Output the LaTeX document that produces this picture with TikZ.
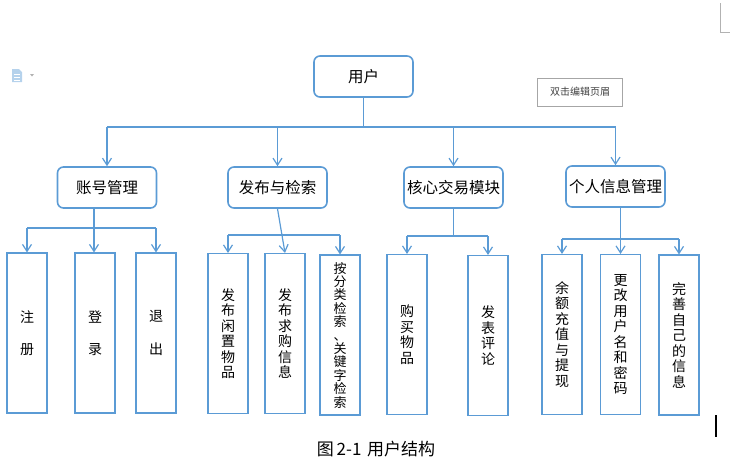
\documentclass[tikz,border=0pt]{standalone}
\usepackage{fontspec}
\setmainfont{Noto Sans CJK SC}
\usetikzlibrary{arrows.meta}
\definecolor{lb}{HTML}{5B9BD5}
\begin{document}
\begin{tikzpicture}[x=1pt,y=-1pt,
 topbox/.style={draw=lb, line width=1.6pt, rounded corners=6pt, inner sep=0pt,
   minimum width=99pt, minimum height=41pt, font=\fontsize{15.5}{18}\selectfont},
 leaf/.style={draw=lb, line width=1.1pt, inner sep=0pt, align=center,
   minimum width=40pt, minimum height=160pt, font=\fontsize{14}{15.5}\selectfont},
 conn/.style={draw=lb, line width=1.2pt},
 arr/.style={conn, -{Straight Barb[length=7pt,width=9pt]}},
]
\useasboundingbox (0,0) rectangle (730,463);
% top
\node[topbox] (u) at (363.5,76.5) {用户};
\node[topbox] (a) at (107,187.5) {账号管理};
\node[topbox] (b) at (277.5,187.5) {发布与检索};
\node[topbox] (c) at (453.5,187.5) {核心交易模块};
\node[topbox] (d) at (615.5,186.5) {个人信息管理};
% leaves
\node[leaf] (l1) at (27,333) {注\\[17pt]册};
\node[leaf] (l2) at (95,333) {登\\[17pt]录};
\node[leaf] (l3) at (156,333) {退\\[17pt]出};
\node[leaf] (p1) at (228,333.5) {发\\布\\闲\\置\\物\\品};
\node[leaf] (p2) at (285,333.5) {发\\布\\求\\购\\信\\息};
\node[leaf, font=\fontsize{13}{13.4}\selectfont] (p3) at (340,335) {按\\分\\类\\检\\索\\、\\关\\键\\字\\检\\索};
\node[leaf] (k1) at (407,334.5) {购\\买\\物\\品};
\node[leaf] (k2) at (488,335.5) {发\\表\\评\\论};
\node[leaf] (m1) at (562,334.5) {余\\额\\充\\值\\与\\提\\现};
\node[leaf] (m2) at (620.5,334.5) {更\\改\\用\\户\\名\\和\\密\\码};
\node[leaf] (m3) at (679,335) {完\\善\\自\\己\\的\\信\\息};
% level 1 connectors
\draw[conn] (u.south) -- (u.south |- 0,127);
\draw[conn] (a.north |- 0,127) -- (d.north |- 0,127);
\foreach \n in {a,b,c,d} \draw[arr] (\n.north |- 0,127) -- (\n.north);
% account
\coordinate (as) at ([xshift=-13pt]a.south);
\draw[arr] (as) -- (as |- l2.north);
\draw[conn] (l1.north |- 0,228) -- (l3.north |- 0,228);
\draw[arr] (l1.north |- 0,228) -- (l1.north);
\draw[arr] (l3.north |- 0,228) -- (l3.north);
% publish
\draw[arr] (b.south) -- (p2.north);
\draw[conn] (p1.north |- 0,235) -- (p3.north |- 0,235);
\draw[arr] (p1.north |- 0,235) -- (p1.north);
\draw[arr] (p3.north |- 0,235) -- (p3.north);
% core
\draw[conn] (c.south) -- (c.south |- 0,236);
\draw[conn] (k1.north |- 0,236) -- (k2.north |- 0,236);
\draw[arr] (k1.north |- 0,236) -- (k1.north);
\draw[arr] (k2.north |- 0,236) -- (k2.north);
% personal
\draw[arr] (m2.north |- d.south) -- (m2.north);
\draw[conn] (m1.north |- 0,239) -- (m3.north |- 0,239);
\draw[arr] (m1.north |- 0,239) -- (m1.north);
\draw[arr] (m3.north |- 0,239) -- (m3.north);
% caption
\node[font=\fontsize{17}{20}\selectfont] (cap) at (376,449) {图\,2-1\,\,用户结构};
% header box and UI marks
\node[draw=gray!70, line width=0.7pt, minimum width=85pt, minimum height=28pt,
  font=\fontsize{10}{12}\selectfont, text=black!75] (hdr) at (580,92) {双击编辑页眉};
\draw[line width=1.6pt] (716,415) -- (716,437);
\draw[gray!60, line width=0.6pt] (720,3) -- (720,32) -- (730,32);
\fill[lb!45] (12,69) -- (19,69) -- (22,72) -- (22,82) -- (12,82) -- cycle;
\draw[white, line width=0.6pt] (14,74) -- (20,74) (14,77) -- (20,77) (14,80) -- (20,80);
\fill[gray!60] (30,74) -- (34,74) -- (32,76.5) -- cycle;
\end{tikzpicture}
\end{document}
